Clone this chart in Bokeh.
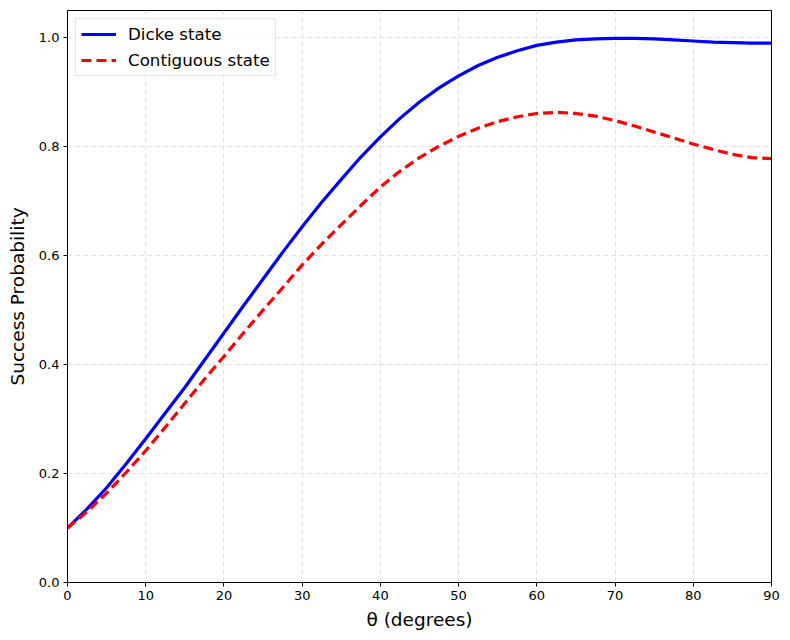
from bokeh.plotting import figure
from bokeh.models import FixedTicker, PrintfTickFormatter, Range1d, Legend, LegendItem
from bokeh.embed import file_html
from bokeh.resources import INLINE

# Angle grid (degrees)
theta = [0, 2.5, 5, 7.5, 10, 12.5, 15, 17.5, 20, 22.5, 25, 27.5, 30, 32.5, 35,
         37.5, 40, 42.5, 45, 47.5, 50, 52.5, 55, 57.5, 60, 62.5, 65, 67.5, 70,
         72.5, 75, 77.5, 80, 82.5, 85, 87.5, 90]

# Success probability for the Dicke state
dicke = [0.100, 0.135, 0.174, 0.218, 0.264, 0.311, 0.358, 0.408, 0.458, 0.508,
         0.557, 0.606, 0.653, 0.698, 0.740, 0.781, 0.818, 0.852, 0.882, 0.908,
         0.930, 0.949, 0.964, 0.976, 0.986, 0.992, 0.996, 0.998, 0.999, 0.999,
         0.998, 0.996, 0.994, 0.992, 0.991, 0.990, 0.990]

# Success probability for the contiguous state
contiguous = [0.100, 0.130, 0.164, 0.202, 0.242, 0.285, 0.329, 0.373, 0.415,
              0.458, 0.500, 0.541, 0.583, 0.621, 0.657, 0.692, 0.726, 0.755,
              0.780, 0.801, 0.819, 0.834, 0.846, 0.855, 0.861, 0.863, 0.861,
              0.856, 0.848, 0.838, 0.827, 0.816, 0.805, 0.795, 0.786, 0.780,
              0.778]

x_ticks = [0, 10, 20, 30, 40, 50, 60, 70, 80, 90]
y_ticks = [0.0, 0.2, 0.4, 0.6, 0.8, 1.0]

FONT = "DejaVu Sans"

p = figure(width=790, height=640, output_backend="svg", toolbar_location=None,
           x_range=Range1d(0, 90), y_range=Range1d(0, 1.05),
           min_border_left=67, min_border_right=19, min_border_top=10,
           min_border_bottom=58)

p.background_fill_color = "white"
p.border_fill_color = "white"
p.outline_line_color = "black"
p.outline_line_width = 1

# Grid
for g in (p.xgrid, p.ygrid):
    g.grid_line_color = "#d9d9d9"
    g.grid_line_dash = "5 3"
    g.grid_line_width = 0.8
p.xgrid.ticker = FixedTicker(ticks=x_ticks)
p.ygrid.ticker = FixedTicker(ticks=y_ticks)

# Axes
p.xaxis.ticker = FixedTicker(ticks=x_ticks)
p.yaxis.ticker = FixedTicker(ticks=y_ticks)
p.yaxis.formatter = PrintfTickFormatter(format="%.1f")
for ax in (p.xaxis, p.yaxis):
    ax.major_tick_in = 0
    ax.major_tick_out = 4
    ax.minor_tick_line_color = None
    ax.axis_line_color = "black"
    ax.major_tick_line_color = "black"
    ax.major_label_text_font = FONT
    ax.major_label_text_font_size = "13px"
    ax.major_label_text_color = "black"
    ax.axis_label_text_font = FONT
    ax.axis_label_text_font_size = "18.5px"
    ax.axis_label_text_font_style = "normal"
    ax.axis_label_text_color = "black"
    ax.major_label_standoff = 4
p.xaxis.axis_label = "θ (degrees)"
p.yaxis.axis_label = "Success Probability"
p.xaxis.axis_label_standoff = 6
p.yaxis.axis_label_standoff = 8

r1 = p.line(theta, dicke, line_color="blue", line_width=3.2)
r2 = p.line(theta, contiguous, line_color="red", line_width=3.2,
            line_dash="10 5")

legend = Legend(items=[LegendItem(label="Dicke state", renderers=[r1]),
                       LegendItem(label="Contiguous state", renderers=[r2])],
                location="top_left")
legend.margin = 8
legend.padding = 5
legend.spacing = 6
legend.glyph_width = 35
legend.glyph_height = 20
legend.label_height = 20
legend.label_standoff = 12
legend.label_text_font = FONT
legend.label_text_font_size = "16.7px"
legend.label_text_color = "black"
legend.border_line_color = "#cccccc"
legend.border_line_width = 1
legend.background_fill_alpha = 0.8
p.add_layout(legend)

open("out.html", "w").write(file_html(p, INLINE))
